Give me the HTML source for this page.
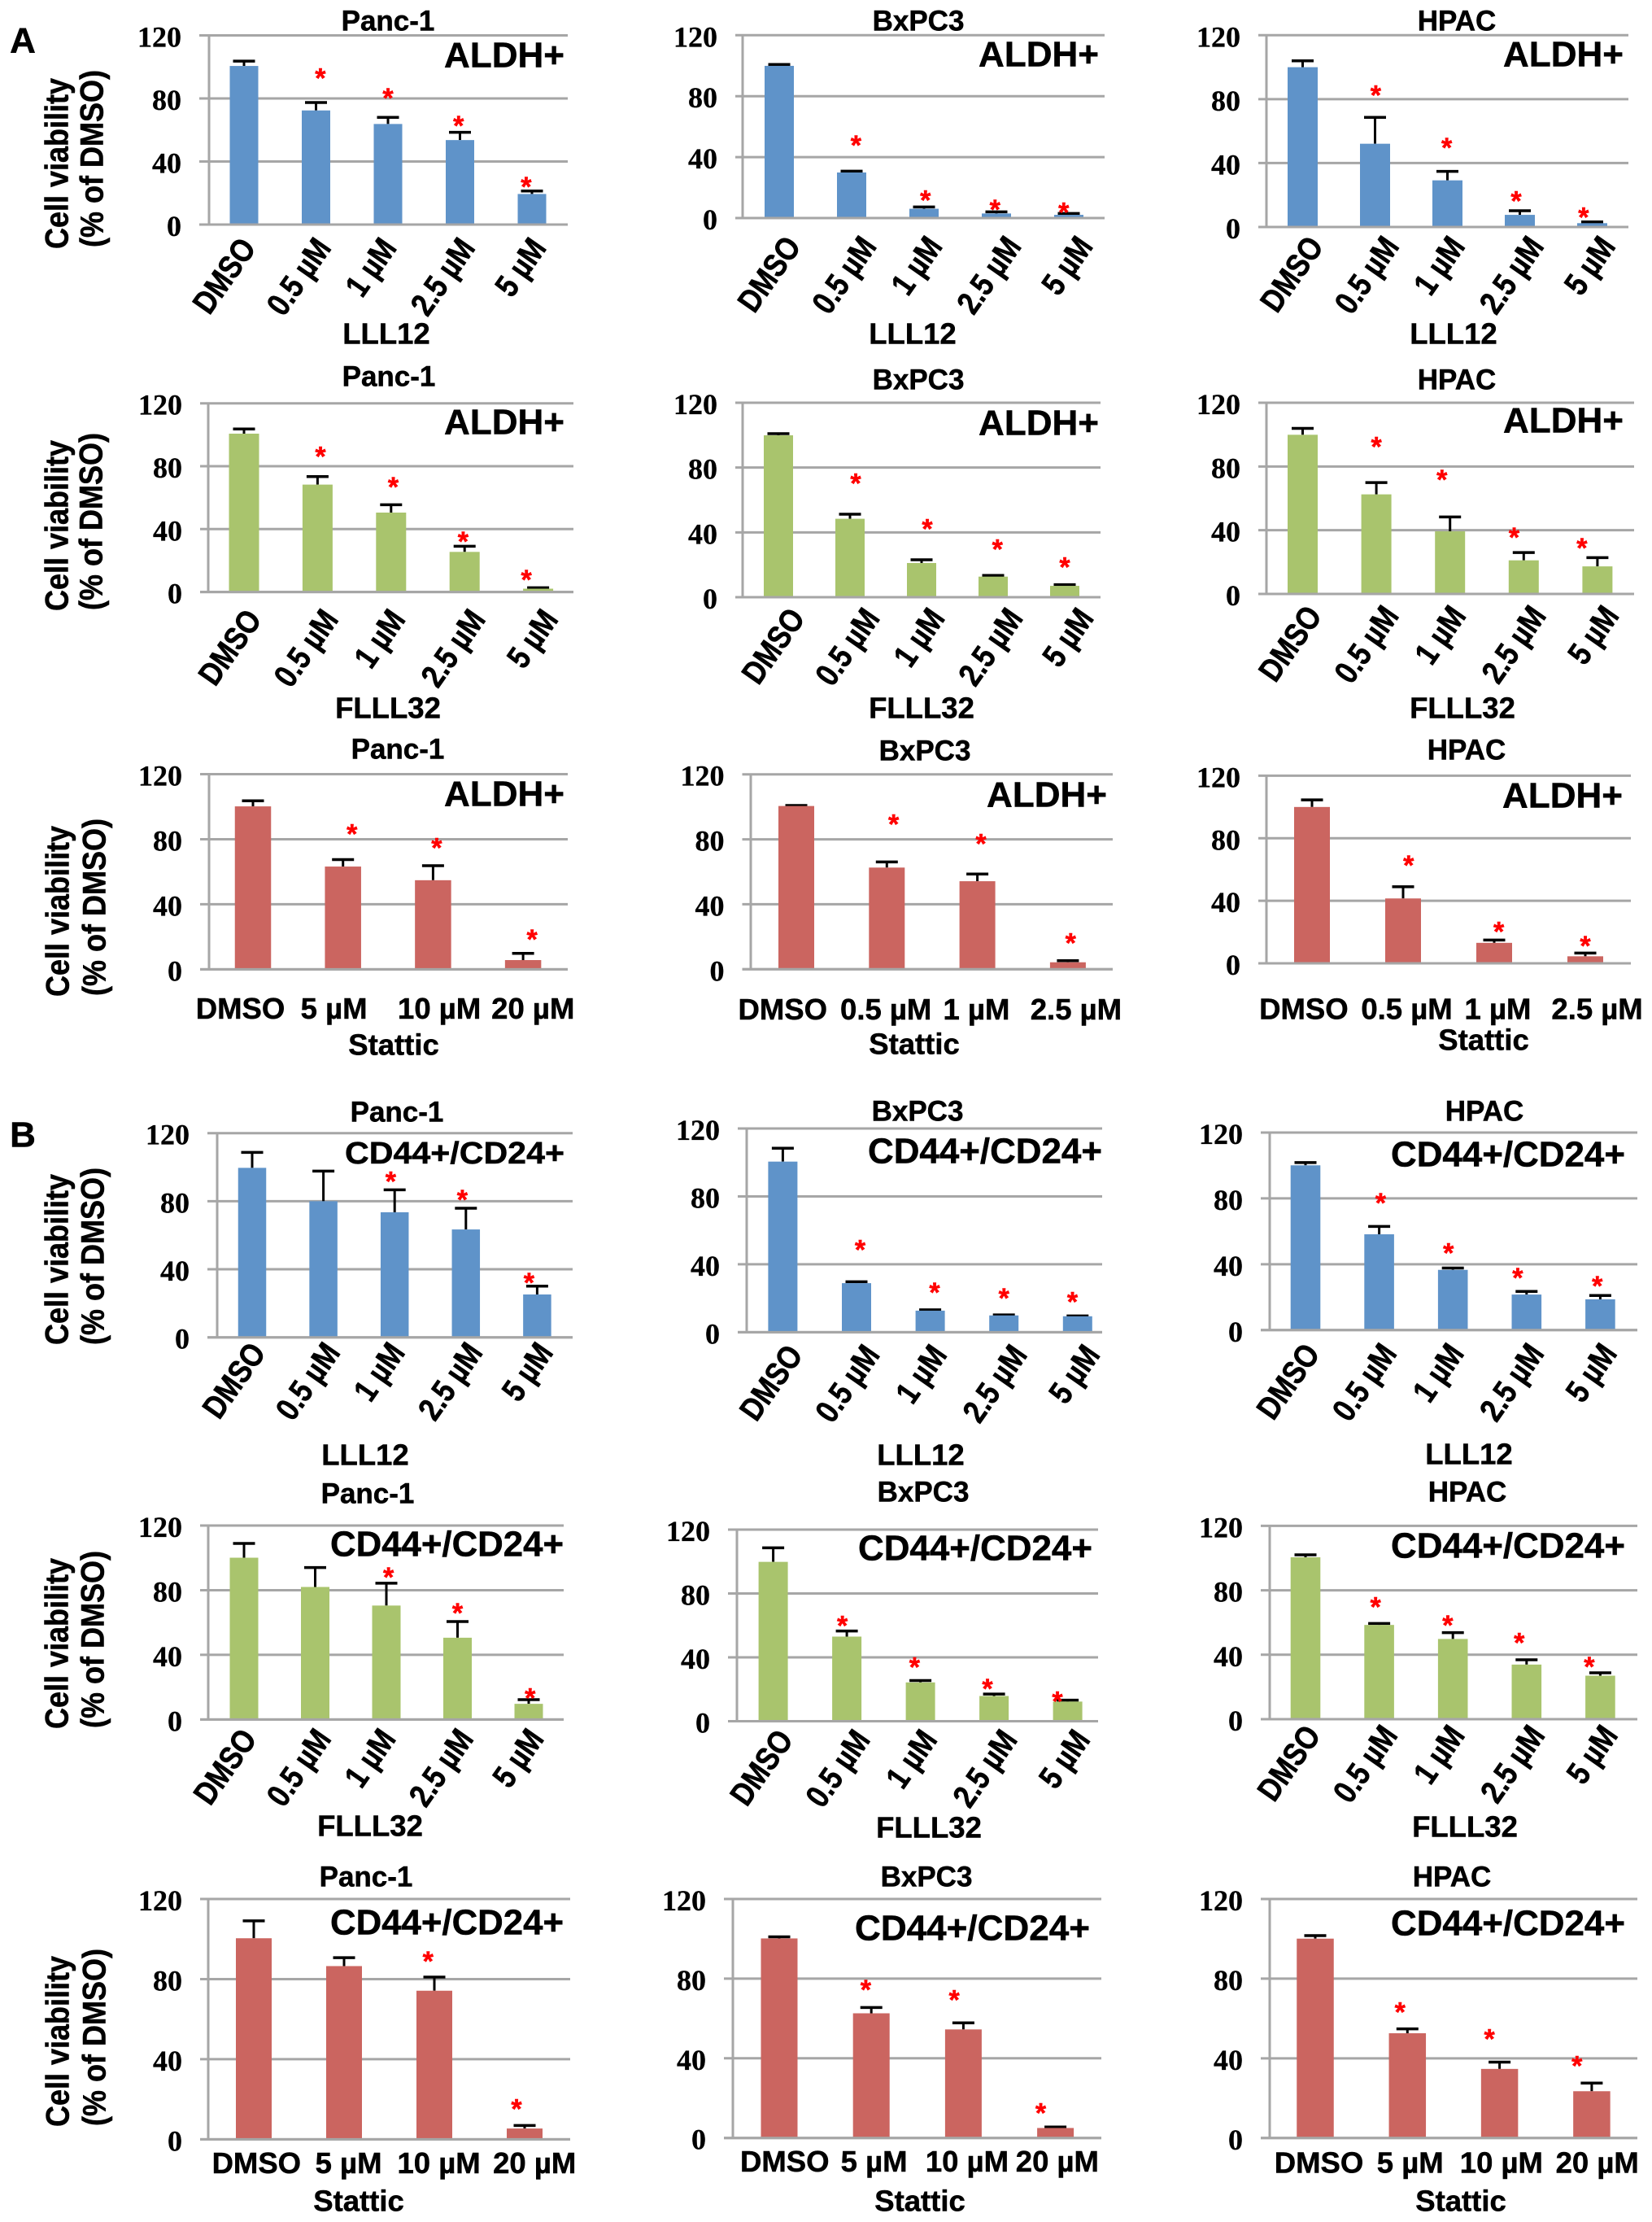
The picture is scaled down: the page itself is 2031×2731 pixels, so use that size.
<!DOCTYPE html>
<html lang="en">
<head>
<meta charset="utf-8">
<title>Cell viability bar charts</title>
<style>
  html, body { margin: 0; padding: 0; background: #fff; }
  svg { display: block; }
  text { font-family: "Liberation Sans", sans-serif; font-weight: bold; fill: #000; stroke: #000; stroke-width: 0.5px; }
  .title, .xtitle, .pop, .letter, .ytitle { text-anchor: middle; dominant-baseline: central; }
  .title { font-size: 35px; }
  .xtitle { font-size: 36.5px; }
  .pop { font-size: 44px; }
  .letter { font-size: 44px; }
  .ytitle { font-size: 36px; }
  .ytick { font-family: "Liberation Serif", serif; font-size: 36px; text-anchor: end; stroke-width: 0.3px; }
  .xtick { font-size: 34px; }
  .xtick-flat { font-size: 36.5px; }
  .star { font-size: 34px; fill: #f00; stroke: #f00; text-anchor: middle; }
</style>
</head>
<body>
<svg id="figure" xmlns="http://www.w3.org/2000/svg" width="2031" height="2731" viewBox="0 0 2031 2731">
  <rect x="0" y="0" width="2031" height="2731" fill="#fff"/>
  <text class="letter" x="28" y="50">A</text>
  <text class="letter" x="28" y="1395">B</text>

  <text class="ytitle" transform="translate(71 201) rotate(-90) scale(1 1.1)">Cell viability</text>
  <text class="ytitle" transform="translate(114 195) rotate(-90) scale(1 1.1)">(% of DMSO)</text>
  <text class="ytitle" transform="translate(71 646) rotate(-90) scale(1 1.1)">Cell viability</text>
  <text class="ytitle" transform="translate(113 641) rotate(-90) scale(1 1.1)">(% of DMSO)</text>
  <text class="ytitle" transform="translate(72 1120) rotate(-90) scale(1 1.1)">Cell viability</text>
  <text class="ytitle" transform="translate(117 1115) rotate(-90) scale(1 1.1)">(% of DMSO)</text>
  <text class="ytitle" transform="translate(71 1548) rotate(-90) scale(1 1.1)">Cell viability</text>
  <text class="ytitle" transform="translate(115 1544) rotate(-90) scale(1 1.1)">(% of DMSO)</text>
  <text class="ytitle" transform="translate(71 2020) rotate(-90) scale(1 1.1)">Cell viability</text>
  <text class="ytitle" transform="translate(115 2015) rotate(-90) scale(1 1.1)">(% of DMSO)</text>
  <text class="ytitle" transform="translate(72 2509) rotate(-90) scale(1 1.1)">Cell viability</text>
  <text class="ytitle" transform="translate(117 2504) rotate(-90) scale(1 1.1)">(% of DMSO)</text>

  <g id="panel-0">
    <text class="title" x="477" y="26">Panc-1</text>
    <text class="pop" x="620" y="68">ALDH+</text>
    <text class="xtitle" x="475" y="410">LLL12</text>
  </g>
  <g id="panel-1">
    <text class="title" x="1129" y="26">BxPC3</text>
    <text class="pop" x="1277" y="67">ALDH+</text>
    <text class="xtitle" x="1122" y="410">LLL12</text>
  </g>
  <g id="panel-2">
    <text class="title" x="1791" y="26">HPAC</text>
    <text class="pop" x="1922" y="67">ALDH+</text>
    <text class="xtitle" x="1787" y="410">LLL12</text>
  </g>
  <g id="panel-3">
    <text class="title" x="478" y="463">Panc-1</text>
    <text class="pop" x="620" y="519">ALDH+</text>
    <text class="xtitle" x="477" y="870">FLLL32</text>
  </g>
  <g id="panel-4">
    <text class="title" x="1129" y="467">BxPC3</text>
    <text class="pop" x="1277" y="520">ALDH+</text>
    <text class="xtitle" x="1133" y="870">FLLL32</text>
  </g>
  <g id="panel-5">
    <text class="title" x="1791" y="467">HPAC</text>
    <text class="pop" x="1922" y="517">ALDH+</text>
    <text class="xtitle" x="1798" y="870">FLLL32</text>
  </g>
  <g id="panel-6">
    <text class="title" x="489" y="921">Panc-1</text>
    <text class="pop" x="620" y="976">ALDH+</text>
    <text class="xtitle" x="484" y="1284">Stattic</text>
  </g>
  <g id="panel-7">
    <text class="title" x="1137" y="923">BxPC3</text>
    <text class="pop" x="1287" y="977">ALDH+</text>
    <text class="xtitle" x="1124" y="1283">Stattic</text>
  </g>
  <g id="panel-8">
    <text class="title" x="1803" y="922">HPAC</text>
    <text class="pop" x="1921" y="978">ALDH+</text>
    <text class="xtitle" x="1824" y="1278">Stattic</text>
  </g>
  <g id="panel-9">
    <text class="title" x="488" y="1367">Panc-1</text>
    <text class="pop" style="font-size:38px" textLength="270" lengthAdjust="spacingAndGlyphs" x="559" y="1418">CD44+/CD24+</text>
    <text class="xtitle" x="449" y="1788">LLL12</text>
  </g>
  <g id="panel-10">
    <text class="title" x="1128" y="1366">BxPC3</text>
    <text class="pop" textLength="288" lengthAdjust="spacingAndGlyphs" x="1211" y="1415">CD44+/CD24+</text>
    <text class="xtitle" x="1132" y="1788">LLL12</text>
  </g>
  <g id="panel-11">
    <text class="title" x="1825" y="1366">HPAC</text>
    <text class="pop" textLength="288" lengthAdjust="spacingAndGlyphs" x="1854" y="1419">CD44+/CD24+</text>
    <text class="xtitle" x="1806" y="1787">LLL12</text>
  </g>
  <g id="panel-12">
    <text class="title" x="452" y="1836">Panc-1</text>
    <text class="pop" textLength="287" lengthAdjust="spacingAndGlyphs" x="549.5" y="1898">CD44+/CD24+</text>
    <text class="xtitle" x="455" y="2244">FLLL32</text>
  </g>
  <g id="panel-13">
    <text class="title" x="1135" y="1834">BxPC3</text>
    <text class="pop" textLength="288" lengthAdjust="spacingAndGlyphs" x="1199" y="1903">CD44+/CD24+</text>
    <text class="xtitle" x="1142" y="2246">FLLL32</text>
  </g>
  <g id="panel-14">
    <text class="title" x="1804" y="1834">HPAC</text>
    <text class="pop" textLength="288" lengthAdjust="spacingAndGlyphs" x="1854" y="1900">CD44+/CD24+</text>
    <text class="xtitle" x="1801" y="2245">FLLL32</text>
  </g>
  <g id="panel-15">
    <text class="title" x="450" y="2307">Panc-1</text>
    <text class="pop" textLength="287" lengthAdjust="spacingAndGlyphs" x="549.5" y="2363">CD44+/CD24+</text>
    <text class="xtitle" x="441" y="2705">Stattic</text>
  </g>
  <g id="panel-16">
    <text class="title" x="1139" y="2307">BxPC3</text>
    <text class="pop" textLength="289" lengthAdjust="spacingAndGlyphs" x="1195.5" y="2370">CD44+/CD24+</text>
    <text class="xtitle" x="1131" y="2705">Stattic</text>
  </g>
  <g id="panel-17">
    <text class="title" x="1785" y="2307">HPAC</text>
    <text class="pop" textLength="288" lengthAdjust="spacingAndGlyphs" x="1854" y="2364">CD44+/CD24+</text>
    <text class="xtitle" x="1796" y="2705">Stattic</text>
  </g>
</svg>

<script>
// ---- chart data: one row per panel, reading left-to-right, top-to-bottom ----
const yTickValues = [0, 40, 80, 120];
const yAxisMax = 120;

const doseLabels = ['DMSO', '0.5 µM', '1 µM', '2.5 µM', '5 µM'];
const statticHighLabels = ['DMSO', '5 µM', '10 µM', '20 µM'];
const statticLowLabels = ['DMSO', '0.5 µM', '1 µM', '2.5 µM'];

const categoryLabels = [
  doseLabels, doseLabels, doseLabels,
  doseLabels, doseLabels, doseLabels,
  statticHighLabels, statticLowLabels, statticLowLabels,
  doseLabels, doseLabels, doseLabels,
  doseLabels, doseLabels, doseLabels,
  statticHighLabels, statticHighLabels, statticHighLabels
];

const barValues = [
  [100.6, 72.4, 63.8, 53.6, 19.4],
  [99.9, 29.9, 6.1, 3.0, 2.1],
  [100, 52.1, 29.2, 7.6, 2.4],
  [100.7, 68.3, 50.5, 25.5, 2.1],
  [99.9, 48.4, 21.1, 12.7, 7.0],
  [99.9, 62.5, 39.3, 21.1, 17.3],
  [100.2, 63.2, 54.8, 5.7],
  [100.5, 62.6, 54.2, 4.3],
  [100, 41.5, 13.1, 4.5],
  [99.6, 80, 73.5, 63.4, 25.2],
  [100.5, 28.9, 12.7, 9.9, 9.4],
  [100.1, 58.2, 36.6, 21.6, 18.7],
  [100.1, 82, 70.5, 50.6, 9.7],
  [99.8, 53, 24.3, 15.8, 12.3],
  [100.5, 58.5, 49.8, 33.9, 27],
  [100.4, 86.5, 74.2, 5.4],
  [100.2, 62.6, 54.5, 5],
  [100.1, 52.6, 34.7, 23.5]
];

const errorTops = [
  [103.7, 77.4, 68, 58.5, 21.3],
  [100.8, 30.8, 7.3, 4.1, 3],
  [104, 68.6, 34.8, 10.2, 3.2],
  [103.7, 73.4, 55.5, 29.1, 2.7],
  [100.9, 51.2, 23.1, 13.4, 7.7],
  [103.9, 69.9, 48.3, 26, 22.8],
  [103.6, 67.5, 63.7, 9.8],
  [100.8, 66.1, 58.6, 5.3],
  [104.5, 49, 14.9, 6.6],
  [108.7, 97.7, 86.7, 75.9, 30.1],
  [108.4, 29.7, 13.2, 10.2, 9.6],
  [101.8, 63, 37.7, 23.5, 21],
  [108.9, 94, 84.3, 60.6, 12.3],
  [108.6, 56.5, 25.5, 17, 13.2],
  [102, 59.4, 53.7, 36.9, 28.8],
  [109.1, 90.7, 81, 6.9],
  [101, 65.5, 57.8, 5.5],
  [101.6, 54.8, 38.1, 27.6]
];

// significance stars: height on the value axis and position on the category axis
const starHeights = [
  [96.8, 84.2, 66.7, 28],
  [51.8, 15.7, 9.6, 7.8],
  [86.4, 53.5, 20.2, 10],
  [90, 70.7, 35.9, 11.6],
  [74, 46, 33.3, 22.4],
  [96.2, 75.6, 39.3, 32.8],
  [87, 78.4, 22.1],
  [93.1, 81.1, 19.9],
  [66.6, 24.2, 15.2],
  [95.3, 84.5, 35.7],
  [52.3, 27, 23.7, 21.5],
  [80.9, 50.5, 35.5, 30.6],
  [91.9, 69.7, 17],
  [63.8, 37.8, 24.3, 16.4],
  [73.5, 62.1, 51.3, 36.3],
  [91.9, 18.2],
  [77.6, 72.5, 15.7],
  [66.2, 52.8, 39.3]
];
const starCategories = [
  [1.06, 2.0, 2.98, 3.92],
  [1.06, 2.02, 2.98, 3.93],
  [1.01, 1.99, 2.95, 3.88],
  [1.04, 2.03, 2.98, 3.84],
  [1.08, 2.08, 3.06, 4.0],
  [1.0, 1.89, 2.87, 3.79],
  [1.10, 2.04, 3.10],
  [1.075, 2.04, 3.03],
  [1.06, 2.05, 3.0],
  [1.945, 2.95, 3.885],
  [1.05, 2.06, 3.0, 3.93],
  [1.02, 1.94, 2.88, 3.96],
  [2.03, 3.0, 4.02],
  [0.94, 1.92, 2.91, 3.86],
  [0.95, 1.93, 2.9, 3.85],
  [1.93, 2.91],
  [0.94, 1.9, 2.84],
  [0.92, 1.89, 2.84]
];

// where horizontal tick labels sit on the category axis (null = rotated labels on the bars)
const tickCategories = [
  null, null, null, null, null, null,
  [-0.14, 0.9, 2.07, 3.11],
  [-0.15, 0.99, 1.99, 3.09],
  [-0.09, 1.04, 2.04, 3.13],
  null, null, null, null, null, null,
  [0.03, 1.05, 2.05, 3.11],
  [0.06, 1.03, 2.04, 3.02],
  [0.04, 1.03, 2.02, 3.06]
];

// ---- layout (not data) ----
const BLUE = '#5f93c9', GREEN = '#a9c46d', RED = '#cb6560', GRID = '#a6a6a6';
const panelColors = [
  BLUE, BLUE, BLUE, GREEN, GREEN, GREEN, RED, RED, RED,
  BLUE, BLUE, BLUE, GREEN, GREEN, GREEN, RED, RED, RED
];

function frame(tick, axis, end, first, band, barW, top, base, labelDx, labelDy) {
  return { tick, axis, end, first, band, barW, top, base, labelDx, labelDy };
}
const frames = [
  frame(245, 257, 698, 300, 88.5, 35, 43.5, 276, 0, 28),
  frame(904, 913, 1358, 958, 89, 36, 43.3, 268, 12, 34),
  frame(1547, 1557, 2002, 1601.5, 89, 37, 43.3, 279, 11, 23),
  frame(246, 256, 705, 300, 90.4, 37, 495.7, 727.6, 7, 33),
  frame(904, 913, 1353, 957, 88, 36, 495, 734, 18, 25),
  frame(1547, 1557, 2009, 1601.5, 90.6, 37, 495, 730, 9, 26),
  frame(246, 257, 698, 311, 110.7, 44.5, 951.5, 1191.4, 0, 48),
  frame(912.5, 923, 1368, 979, 111.3, 44, 951.7, 1191.3, 0, 49),
  frame(1547, 1557, 2005, 1613, 112, 44, 953.4, 1184, 0, 56),
  frame(255, 267, 704, 310, 87.6, 34.5, 1392.7, 1643.7, 2, 18),
  frame(907, 918, 1355, 962.4, 90.6, 36, 1387, 1637.4, 10, 27),
  frame(1550, 1561, 2013, 1605, 90.6, 36.6, 1392, 1634.8, 3, 28),
  frame(246, 256, 693, 300, 87.5, 35, 1875, 2113.4, 1, 23),
  frame(895, 906, 1350, 950.6, 90.5, 36, 1880, 2115.5, 10, 22),
  frame(1550, 1561, 2013, 1605, 90.6, 36.6, 1875.4, 2113, 4, 19),
  frame(246, 256, 701, 312, 111, 44, 2334, 2629.4, 0, 29),
  frame(890, 901, 1354, 958, 113.2, 45, 2334, 2627.7, 0, 29),
  frame(1550, 1561, 2013, 1617, 113.3, 45.5, 2334, 2627.8, 0, 30)
];
const rotatedNudge = { 'DMSO': 15, '0.5 µM': 19, '1 µM': 11, '2.5 µM': 19, '5 µM': 18 };

const SVG_NS = 'http://www.w3.org/2000/svg';

function xScale(f, cat) { return f.first + cat * f.band; }
function yScale(f, value) { return f.base - value * (f.base - f.top) / yAxisMax; }

function shape(parent, tag, attrs) {
  const node = document.createElementNS(SVG_NS, tag);
  for (const key in attrs) node.setAttribute(key, attrs[key]);
  parent.appendChild(node);
  return node;
}

function drawPanel(p) {
  const f = frames[p];
  const group = document.getElementById('panel-' + p);
  const marks = document.createElementNS(SVG_NS, 'g');
  
  
  group.insertBefore(marks, group.firstChild);

  yTickValues.forEach(function (tick) {
    const y = yScale(f, tick);
    const line = shape(marks, 'line', { x1: f.tick, x2: f.end, y1: y, y2: y, stroke: GRID, 'stroke-width': 3 });
    
    
    const label = shape(marks, 'text', { class: 'ytick', x: f.tick - 22, y: y + 14 });
    
    
    label.textContent = tick;
  });

  const axis = shape(marks, 'line', { x1: f.axis, x2: f.axis, y1: f.top, y2: f.base, stroke: GRID, 'stroke-width': 3 });
  
  

  barValues[p].forEach(function (value, i) {
    const cx = xScale(f, i);
    const topY = yScale(f, value);
    const capY = yScale(f, errorTops[p][i]);

    const stem = shape(marks, 'line', { x1: cx, x2: cx, y1: topY, y2: capY, stroke: '#000', 'stroke-width': 3 });
    
    

    const cap = shape(marks, 'line', { x1: cx - 13.5, x2: cx + 13.5, y1: capY, y2: capY, stroke: '#000', 'stroke-width': 3.5 });
    
    

    const bar = shape(marks, 'rect', { x: cx - f.barW / 2, y: topY, width: f.barW, height: f.base - topY, fill: panelColors[p] });
    
    
  });

  const baseLine = shape(marks, 'line', { x1: f.tick, x2: f.end, y1: f.base, y2: f.base, stroke: GRID, 'stroke-width': 3 });
  
  

  starHeights[p].forEach(function (height, i) {
    const star = shape(marks, 'text', { class: 'star', x: xScale(f, starCategories[p][i]), y: yScale(f, height) + 19 });
    
    
    star.textContent = '*';
  });

  categoryLabels[p].forEach(function (text, i) {
    const tickCats = tickCategories[p];
    let label;
    if (tickCats) {
      label = shape(marks, 'text', { class: 'xtick-flat', x: xScale(f, tickCats[i]), y: f.base + f.labelDy, 'text-anchor': 'middle', 'dominant-baseline': 'central' });
    } else {
      const ax = xScale(f, i) + rotatedNudge[text] + f.labelDx + 1;
      const ay = f.base + f.labelDy + 1;
      label = shape(marks, 'text', { class: 'xtick', transform: 'translate(' + ax + ' ' + ay + ') rotate(-55) scale(1 1.18)', 'text-anchor': 'end' });
    }
    
    
    label.textContent = text;
  });
}

frames.forEach(function (f, p) { drawPanel(p); });
</script>
</body>
</html>
